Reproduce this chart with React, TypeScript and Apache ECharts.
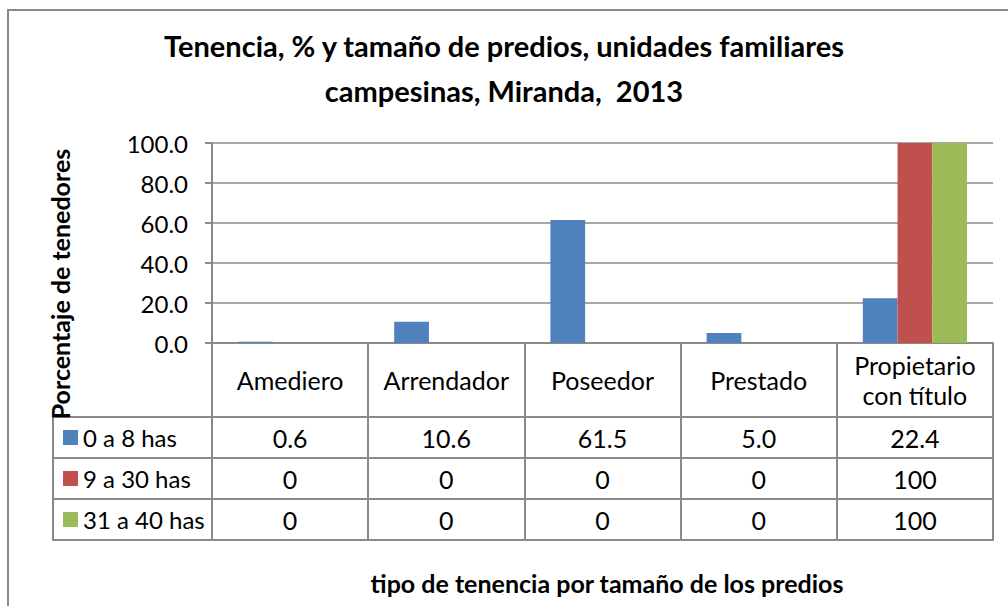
import React, { useEffect, useRef } from 'react';
import * as echarts from 'echarts';

const categories = ['Amediero', 'Arrendador', 'Poseedor', 'Prestado', 'Propietario\ncon título'];
const seriesNames = ['0 a 8 has', '9 a 30 has', '31 a 40 has'];
const small = [0.6, 10.6, 61.5, 5.0, 22.4];
const medium = [0, 0, 0, 0, 100];
const large = [0, 0, 0, 0, 100];
const seriesValues = [small, medium, large];
const seriesDecimals = [1, 0, 0];
const yTicks = [0, 20, 40, 60, 80, 100];
const colors = ['#4F81BD', '#C0504D', '#9BBB59'];
const titleText = 'Tenencia, % y tamaño de predios, unidades familiares\ncampesinas, Miranda,  2013';
const yTitle = 'Porcentaje de tenedores';
const xTitle = 'tipo de tenencia por tamaño de los predios';

const FONT = 'Lato, "Noto Sans", sans-serif';
const GRAY = '#8a8a8a';
const FS = 25;
const LEG_FS = 24;

export default function App() {
  const ref = useRef<HTMLDivElement>(null);
  useEffect(() => {
    if (!ref.current) return;
    const chart = echarts.init(ref.current, undefined, { renderer: 'svg' });
    const left = 212;
    const right = 993;
    const top = 143;
    const axisY = 343;
    const rowH = 41;
    const headerBottom = 417;
    const tableLeft = 53;
    const rowLines = [0, 1, 2, 3].map((i) => headerBottom + i * rowH);
    const tableBottom = rowLines[rowLines.length - 1];

    const rowAxes = seriesValues.map((vals, i) => ({
      type: 'category',
      data: categories,
      gridIndex: 0,
      position: 'bottom',
      offset: headerBottom - axisY + rowH * i + rowH / 2,
      axisLine: { show: false },
      axisTick: { show: false },
      splitLine: { show: false },
      axisLabel: {
        interval: 0,
        margin: 0,
        verticalAlign: 'middle',
        fontSize: FS,
        color: '#000',
        fontFamily: FONT,
        formatter: (_v: string, idx: number) => vals[idx].toFixed(seriesDecimals[i]),
      },
    }));

    chart.setOption({
      animation: false,
      color: colors,
      title: {
        text: titleText,
        left: 'center',
        top: 23,
        padding: 0,
        textStyle: { fontFamily: FONT, fontWeight: 'bold', fontSize: 29, lineHeight: 45, color: '#000' },
      },
      legend: {
        orient: 'vertical',
        left: 63,
        top: headerBottom + rowH / 2 - LEG_FS / 2,
        padding: 0,
        itemWidth: 15,
        itemHeight: 15,
        itemGap: rowH - LEG_FS,
        icon: 'rect',
        selectedMode: false,
        data: seriesNames,
        textStyle: { fontFamily: FONT, fontSize: LEG_FS, lineHeight: LEG_FS, color: '#000' },
      },
      grid: { left, right: 1008 - right, top, bottom: 606 - axisY, containLabel: false },
      xAxis: [
        {
          type: 'category',
          data: categories,
          name: xTitle,
          nameLocation: 'middle',
          nameGap: 240,
          nameTextStyle: { fontFamily: FONT, fontWeight: 'bold', fontSize: 25, color: '#000', verticalAlign: 'middle', padding: [0, 0, 0, 9] },
          axisLine: { show: true, lineStyle: { color: GRAY, width: 2 } },
          axisTick: { show: true, interval: 0, length: tableBottom - axisY, lineStyle: { color: GRAY, width: 2 } },
          axisLabel: {
            interval: 0,
            margin: (headerBottom - axisY) / 2,
            verticalAlign: 'middle',
            fontSize: FS,
            lineHeight: 30,
            color: '#000',
            fontFamily: FONT,
          },
        },
        ...rowAxes,
      ],
      yAxis: {
        type: 'value',
        min: yTicks[0],
        max: yTicks[yTicks.length - 1],
        interval: yTicks[1] - yTicks[0],
        axisLine: { show: true, lineStyle: { color: GRAY, width: 2 } },
        axisTick: { show: true, length: 7, lineStyle: { color: GRAY, width: 2 } },
        splitLine: { show: true, lineStyle: { color: GRAY, width: 1.5 } },
        axisLabel: {
          margin: 24,
          fontSize: 24,
          color: '#000',
          fontFamily: FONT,
          formatter: (v: number) => v.toFixed(1),
        },
      },
      series: seriesNames.map((name, i) => ({
        name,
        type: 'bar',
        data: seriesValues[i],
        barGap: '0%',
        barCategoryGap: '33.3%',
        itemStyle: { color: colors[i] },
      })),
      graphic: [
        {
          type: 'rect',
          shape: { x: 8, y: 10, width: 1100, height: 700 },
          style: { fill: 'none', stroke: GRAY, lineWidth: 2 },
          z: -10,
          silent: true,
        },
        ...rowLines.map((y) => ({
          type: 'line',
          shape: { x1: tableLeft, y1: y, x2: right + 1, y2: y },
          style: { stroke: GRAY, lineWidth: 2 },
          silent: true,
        })),
        {
          type: 'line',
          shape: { x1: tableLeft, y1: headerBottom - 1, x2: tableLeft, y2: tableBottom + 1 },
          style: { stroke: GRAY, lineWidth: 2 },
          silent: true,
        },
        {
          type: 'text',
          x: 60,
          y: 284,
          rotation: Math.PI / 2,
          style: {
            text: yTitle,
            fontFamily: FONT,
            fontWeight: 'bold',
            fontSize: 25,
            fill: '#000',
            align: 'center',
            verticalAlign: 'middle',
          },
          silent: true,
        },
      ],
    });
    return () => chart.dispose();
  }, []);
  return (
    <div
      ref={ref}
      style={{ position: 'absolute', left: 0, top: 0, width: 1008, height: 606, background: '#fff' }}
    />
  );
}
